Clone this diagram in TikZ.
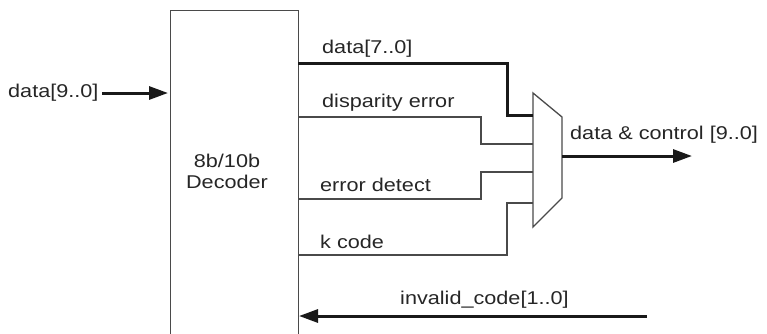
\documentclass[tikz,border=0pt]{standalone}
\usepackage{fontspec}
\setmainfont{Liberation Sans}
\usetikzlibrary{arrows.meta,calc}
\newcommand{\wtx}[1]{\scalebox{1.17}[1]{#1}}
\definecolor{wire}{HTML}{4A4A4A}
\begin{document}
\begin{tikzpicture}[x=1pt,y=-1pt,
  thinwire/.style={draw=wire,line width=1.3pt},
  thickwire/.style={draw=black!90,line width=3pt},
  arr/.style={thickwire,-{Triangle[length=19pt,width=13pt]}},
  lbl/.style={inner sep=0pt,font=\fontsize{18.5}{20}\selectfont,text=black!85},
]
\useasboundingbox (0,0) rectangle (767,333);
\clip (0,0) rectangle (767,333);
% decoder box
\node[draw=wire,line width=1.3pt,minimum width=128pt,minimum height=340pt,anchor=north west,inner sep=0pt] (dec) at (170,10) {};
\node[lbl,align=center] (declbl) at (227,171) {\wtx{8b/10b}\\[1pt]\wtx{Decoder}};
% mux
\coordinate (m1) at (533,93);
\coordinate (m2) at (562,117);
\coordinate (m3) at (562,198);
\coordinate (m4) at (533,227);
\draw[thinwire,line join=miter] (m1) -- (m2) -- (m3) -- (m4) -- cycle;
% coordinates
\coordinate (inS) at (102,93);
\coordinate (inE) at (168,93);
\coordinate (d7s) at (298,63);
\coordinate (d7e) at (533,115);
\coordinate (des) at (298,117);
\coordinate (dee) at (533,144);
\coordinate (eds) at (298,199);
\coordinate (ede) at (533,172);
\coordinate (kcs) at (298,255);
\coordinate (kce) at (533,203);
\coordinate (outS) at (562,156);
\coordinate (outE) at (692,156);
\coordinate (ivS) at (647,316);
\coordinate (ivE) at (299,316);
% labels
\node[lbl,anchor=west] (lin) at (8,93) {\wtx{data[9..0]}};
\node[lbl,anchor=west] (l7) at (322,49) {\wtx{data[7..0]}};
\node[lbl,anchor=west] (lde) at (322,103) {\wtx{disparity error}};
\node[lbl,anchor=west] (led) at (320,185) {\wtx{error detect}};
\node[lbl,anchor=west] (lkc) at (320,242) {\wtx{k code}};
\node[lbl,anchor=west] (lout) at (570,135) {\wtx{data \& control [9..0]}};
\node[lbl,anchor=west] (liv) at (400,300) {\wtx{invalid\_code[1..0]}};
% wires
\draw[arr] (inS) -- (inE);
\draw[thickwire,line join=miter] (d7s) -- (507,63) -- (507,115) -- (d7e);
\draw[thinwire] (des) -- (481,117) -- (481,144) -- (dee);
\draw[thinwire] (eds) -- (481,199) -- (481,172) -- (ede);
\draw[thinwire] (kcs) -- (507,255) -- (507,203) -- (kce);
\draw[arr] (outS) -- (outE);
\draw[arr] (ivS) -- (ivE);
\end{tikzpicture}
\end{document}
